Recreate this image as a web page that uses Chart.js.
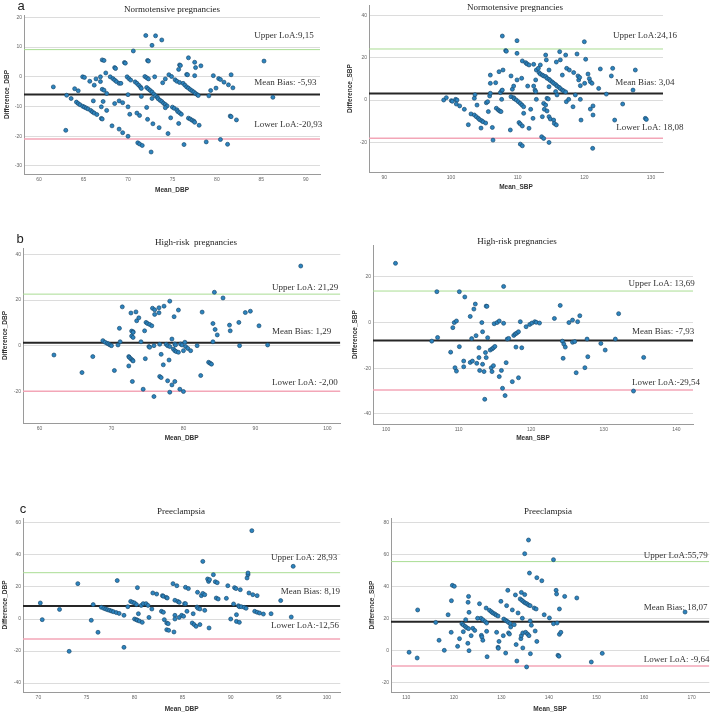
<!DOCTYPE html>
<html>
<head>
<meta charset="utf-8">
<script src="https://cdn.jsdelivr.net/npm/chart.js@4.4.1/dist/chart.umd.min.js"></script>
<style>
  html, body { margin: 0; padding: 0; background: #fff; }
  body { width: 714px; height: 714px; position: relative; overflow: hidden; }
  .panel { position: absolute; }
</style>
</head>
<body>
<script>
// Bland-Altman panels: [mean, difference] pairs

const normDbp = [[61.6,-3.4],[63.0,-18.0],[63.1,-6.2],[63.6,-7.3],[64.0,-4.0],[64.4,-4.7],
  [64.2,-8.5],[64.4,-9.0],[64.6,-9.4],[64.9,-9.9],[65.1,-10.2],[65.3,-10.5],[65.5,-10.8],
  [64.9,0.0],[65.1,-0.2],[65.7,-1.5],[66.1,-8.1],[66.2,-2.8],
  [65.8,-11.3],[66.0,-11.8],[66.2,-12.2],[66.5,-12.7],
  [66.4,-0.7],[66.9,-1.6],[66.9,0.0],[67.0,-10.1],[67.0,-14.0],[67.1,-14.2],[67.1,5.7],[67.3,5.5],[67.1,-4.2],[67.3,-4.5],[67.2,-8.3],[67.5,1.3],[67.6,-11.3],[67.6,-5.6],
  [68.0,0.0],[68.3,-0.6],[68.5,-1.1],[68.7,-1.6],[69.0,-2.2],
  [68.2,-16.5],[68.5,3.1],[68.6,2.8],[68.5,-9.0],[69.0,-8.1],[69.0,-17.6],[69.2,-2.2],[69.4,-18.8],[69.6,4.8],[69.7,4.6],[69.4,-8.7],
  [69.9,0.0],[70.1,-0.6],[70.3,-1.1],
  [70.0,-6.0],[70.0,-10.1],[70.0,-20.0],[70.2,-12.6],[70.6,8.7],
  [70.8,-1.7],[71.0,-2.2],[71.2,-2.8],[71.4,-3.4],[71.5,-3.9],
  [71.0,-12.2],[71.3,-13.0],
  [71.1,-22.2],[71.3,-22.6],[71.6,-23.1],[71.5,-6.6],
  [71.9,0.1],[72.1,-0.3],[72.3,-0.7],
  [72.0,13.9],[72.2,5.5],[72.3,5.3],[72.1,-10.3],[72.2,-14.3],
  [72.1,-3.6],[72.3,-4.1],[72.5,-4.6],[72.7,-5.1],[72.9,-5.8],[73.1,-6.4],[73.3,-6.9],[73.4,-7.4],[73.6,-7.9],[73.8,-8.3],[74.0,-8.9],[74.2,-9.3],[74.4,-9.8],
  [72.6,-25.3],[72.7,10.6],[72.7,-7.3],[72.8,-15.8],[73.0,0.0],[73.1,13.8],[73.5,-17.1],[73.8,12.4],[73.9,-2.0],[74.2,-0.7],[74.2,-10.4],[74.5,-19.1],[74.6,0.7],[74.9,0.1],[74.8,-13.8],
  [75.0,-10.2],[75.2,-10.6],[75.5,-11.1],[75.6,-11.7],[75.8,-12.1],[76.0,-12.6],
  [75.3,-1.0],[75.5,-1.5],[75.8,-1.9],
  [75.7,-15.7],[75.7,2.5],[75.8,4.0],[75.9,3.8],[76.3,-22.8],
  [76.2,-2.2],[76.4,-2.8],[76.6,-3.4],[76.8,-3.8],[77.0,-4.3],[77.2,-4.7],[77.4,-5.1],[77.6,-5.6],[77.8,-6.0],[77.9,-6.3],
  [76.6,0.8],[76.7,0.7],[76.8,6.4],
  [76.8,-13.9],[77.0,-14.2],[77.2,-14.6],[77.4,-14.9],[77.5,-15.3],
  [77.5,4.9],[77.6,3.1],[77.5,0.4],[78.0,-16.3],[78.2,3.7],[78.8,-21.9],[79.1,-6.4],[79.3,-4.6],[79.6,0.4],[79.9,-3.8],[80.2,-0.6],[80.4,-0.9],[80.4,-21.1],[80.8,-1.8],[81.2,-22.7],[81.3,-2.7],[81.6,0.7],[81.5,-13.2],[81.6,-13.4],[81.8,-3.7],[82.2,-14.5],[85.3,5.3],[86.3,-6.9]];

const normSbp = [[98.9,0.0],[99.3,1.1],[100.05,-0.3],[100.2,-0.6],[100.7,0.3],[100.9,0.0],[100.8,-1.9],[101.3,-2.8],[102.0,-4.4],[102.6,-11.7],[103.0,-6.6],
  [103.5,0.8],[103.6,2.5],[103.5,-7.1],[103.8,-7.9],[104.1,-8.7],[104.3,-9.3],[104.6,-9.8],[104.8,-10.3],[105.2,-10.9],
  [103.9,-2.4],[104.5,-13.3],[105.3,-1.3],[105.5,-0.8],[105.6,-5.5],[105.8,1.9],[105.9,3.2],[105.9,11.8],[105.9,7.9],[106.2,-13.0],[106.3,-19.0],[106.7,8.2],
  [106.8,-3.9],[107.1,-4.7],[107.3,-5.2],[107.5,-5.5],[107.2,13.4],[107.4,3.5],[107.6,4.4],[107.7,4.7],[107.6,0.3],[107.7,30.3],[107.8,14.2],[108.2,23.4],[108.3,23.1],
  [108.9,-14.2],[109.0,11.4],[109.2,5.1],[109.4,6.6],[109.0,1.6],[109.4,1.1],[109.5,0.6],[109.8,0.0],[109.9,9.5],[109.9,28.1],[109.9,22.1],
  [110.1,-0.8],[110.4,-1.6],[110.65,-2.4],[110.9,-3.2],[110.2,-10.7],[110.4,-11.4],[110.7,-12.3],[110.4,-20.9],[110.7,-21.7],[110.7,18.5],[110.6,10.3],[110.9,-6.3],
  [111.2,17.7],[111.4,17.1],[111.7,16.6],[111.5,6.6],[111.7,-13.4],[111.95,-4.4],[112.3,-8.7],[112.4,16.9],[112.4,6.6],[112.6,4.7],[112.7,4.0],[112.7,9.5],[112.8,0.3],[112.8,14.2],[113.1,15.0],[113.4,16.6],
  [113.2,13.0],[113.4,12.3],[113.7,11.8],[113.9,11.4],[114.2,11.1],[114.4,10.3],[114.7,9.8],[114.9,9.2],[115.2,8.5],[115.4,7.9],[115.7,7.3],[115.9,6.6],[116.2,6.0],[116.4,5.4],[116.7,4.7],[116.9,4.3],[117.2,3.8],
  [113.9,-1.6],[114.2,-2.4],[113.7,-7.9],[113.6,-17.4],[113.9,-18.2],[114.2,21.3],[114.3,19.0],[114.4,0.8],[114.6,0.5],[114.0,-4.4],[114.4,-5.2],[114.7,14.2],[114.7,-7.9],[114.9,-9.0],[114.7,-20.1],[114.7,6.3],
  [115.4,-9.5],[115.5,-11.1],[115.8,-11.8],[115.7,4.0],[115.9,2.4],[115.8,18.0],[116.3,22.9],[116.4,19.0],[116.7,11.8],[117.2,21.3],[117.35,15.0],[117.3,-0.8],[117.65,0.3],[117.75,14.2],
  [118.3,-3.2],[118.4,13.0],[118.65,2.4],[118.9,21.8],[119.05,11.4],[119.15,9.5],[119.3,10.7],[119.4,6.8],[119.4,0.3],[119.5,-9.5],[120.0,27.6],[120.2,19.3],[120.05,7.9],
  [120.55,12.3],[120.75,10.1],[120.9,8.7],[121.15,7.9],[120.9,-4.3],[121.3,-2.8],[121.3,-7.1],[121.25,-22.9],[122.15,5.5],[122.4,14.7],[123.3,2.8],[124.05,11.4],[124.25,15.0],[124.55,-9.5],
  [125.75,-1.9],[127.3,4.7],[127.65,14.2],[129.15,-8.7],[129.3,-9.2]];

const highDbp = [[62.0,-4.1],[65.9,-11.8],[67.4,-4.8],[68.8,2.2],[69.1,1.5],[69.4,1.0],[69.6,0.7],[69.8,0.3],[70.0,0.0],[70.4,-10.9],[70.9,0.3],[71.1,7.6],[71.2,1.7],[71.5,17.0],
  [72.4,-4.8],[72.5,-5.2],[72.7,-5.8],[72.9,-6.3],[73.0,-6.7],[72.4,-8.9],[72.7,14.3],[72.8,6.4],[73.0,6.1],[73.0,5.8],[72.8,4.2],[73.0,3.6],[72.9,-15.7],[73.4,14.8],[73.5,10.9],[73.8,12.2],
  [74.1,1.7],[74.4,-19.1],[74.6,6.5],[74.7,-5.7],[74.8,10.2],[75.0,9.7],[75.3,9.3],[75.6,8.7],[75.2,-0.4],[75.3,-0.7],[75.7,16.4],[75.9,-22.3],[76.0,15.7],[76.0,13.7],[75.9,0.0],
  [76.6,16.6],[76.6,14.4],[76.7,0.6],[76.9,-3.8],[76.7,-13.5],[76.9,-14.0],[77.2,-8.4],[77.3,17.3],[77.6,0.6],[77.8,0.0],[78.1,-0.4],[77.8,-15.4],[78.0,-6.3],[78.1,19.5],[78.1,-20.4],
  [78.4,2.9],[78.4,-17.2],[78.6,-1.5],[78.8,-2.2],[79.0,-2.6],[79.3,-2.9],[78.7,12.7],[78.8,-15.7],[78.8,0.7],[78.9,0.3],[79.3,15.6],[79.5,-19.1],[79.6,0.7],[79.8,0.3],[80.0,-20.1],[80.0,-2.2],
  [80.2,1.5],[80.3,-0.4],[80.6,-1.2],[81.0,-2.2],[81.9,0.0],[82.4,-13.1],[82.6,14.7],[83.5,-7.3],[83.7,-7.7],[83.9,-8.1],[84.1,9.7],[84.1,1.7],[84.3,23.4],[84.4,7.1],[84.7,4.7],
  [85.5,20.9],[86.4,9.0],[86.5,6.5],[87.7,10.2],[87.8,0.0],[88.6,14.5],[89.3,15.1],[90.5,8.7],[91.7,0.3],[96.3,34.9]];

const highSbp = [[101.3,25.8],[106.3,-8.2],[107.0,13.4],[107.1,-6.6],[108.9,-13.0],[109.2,-2.3],[109.4,-0.1],[109.7,0.6],[109.5,-19.8],[109.7,-21.3],[110.1,13.4],[110.1,-10.6],
  [110.7,-16.9],[110.85,11.1],[110.7,-19.4],[111.6,-17.5],[111.9,-16.9],[111.6,2.6],[111.8,-7.1],[112.1,5.8],[112.3,8.0],[112.4,-5.8],[112.5,-17.9],[112.8,-11.1],[112.8,-15.4],[112.9,-21.0],
  [113.2,-0.1],[113.3,-4.1],[113.3,-18.3],[113.5,-21.5],[113.6,-33.6],[113.7,-13.2],[113.8,-15.4],[113.8,7.1],[113.9,7.0],[114.0,-6.7],
  [114.35,-12.1],[114.6,-11.6],[114.8,-11.1],[115.0,-10.5],[114.5,-19.8],[114.6,-21.5],[114.8,-18.9],[114.9,-0.6],[115.3,-0.1],[115.6,0.6],[115.6,-23.7],[115.9,-21.0],[116.05,-28.8],
  [116.2,15.7],[116.2,-0.4],[116.4,-32.0],[116.55,-17.6],[116.7,-7.3],[116.9,-7.0],[117.4,-25.9],[117.6,-5.7],[117.8,-5.1],[118.0,-4.7],[118.25,-4.1],[117.9,-10.8],[118.25,-24.2],
  [118.5,0.3],[118.7,-11.1],[119.3,-1.9],[119.8,-0.9],[120.1,-0.3],[120.5,0.3],[120.7,0.0],[121.15,-0.3],[123.2,1.7],[124.0,7.4],[124.3,-8.2],[124.5,-9.5],[124.7,-10.8],[124.4,-15.7],
  [125.2,-0.1],[125.7,1.0],[125.7,-8.7],[126.0,-8.4],[126.2,-22.0],[126.4,0.3],[126.7,2.9],[127.4,-19.8],[127.7,-7.3],[127.8,-15.0],[129.6,-9.2],[130.2,-12.1],[131.6,-7.3],[132.05,3.8],
  [134.1,-30.0],[135.5,-15.3]];

const preDbp = [[70.2,10.0],[70.4,-0.4],[72.2,6.0],[73.2,-20.2],[74.1,22.1],[75.5,-0.8],[75.7,9.0],[76.2,-8.3],
  [76.55,7.3],[76.8,6.7],[77.0,6.25],[77.2,5.8],[77.4,5.4],[77.6,5.0],[77.8,4.6],[78.1,4.0],[78.4,3.5],
  [78.2,24.0],[78.9,-17.7],[78.9,2.3],[79.3,7.7],[79.6,11.0],[79.8,10.4],[80.0,10.0],[80.3,19.6],[80.2,9.0],[80.4,3.3],
  [80.0,0.0],[80.2,-0.4],[80.3,-0.8],[80.5,-1.25],[80.8,-2.1],[80.7,8.5],[80.9,9.6],[81.2,9.6],[81.4,8.5],[81.5,1.0],[81.8,6.25],[81.9,16.25],[82.3,15.6],
  [82.8,4.8],[83.0,4.2],[82.9,14.6],[83.0,14.2],[83.3,13.5],[83.4,13.1],[83.1,-0.4],[83.35,-2.5],[83.5,-2.9],[83.35,-6.7],[83.55,-7.1],[84.1,-8.1],[84.0,22.1],[84.2,2.3],[84.2,0.0],
  [84.4,20.8],[84.2,11.7],[84.5,11.0],[84.65,10.4],[84.65,1.0],[84.9,2.3],[85.1,1.7],[85.2,9.6],[85.3,9.6],[85.3,19.8],[85.45,4.8],[85.6,19.0],
  [86.0,-2.5],[86.2,-3.5],[86.4,-4.6],[86.1,3.3],[86.55,16.7],[86.5,7.5],[86.6,6.7],[86.8,6.25],[86.8,-3.5],[86.95,14.6],[87.1,36.0],[87.1,16.0],[87.3,15.2],[87.3,5.4],
  [87.6,25.0],[87.7,23.5],[87.75,-5.6],[87.8,24.6],[88.2,27.7],[88.4,23.3],[88.6,22.7],[88.5,13.1],[88.7,12.5],[89.55,12.9],[89.7,20.8],[90.0,0.0],[90.3,9.4],[90.4,19.6],[90.55,19.0],
  [90.6,2.7],[90.6,-1.5],[90.8,8.3],[90.9,7.7],[91.1,7.7],[91.4,7.3],[91.0,18.3],[90.9,-2.1],[91.6,6.7],[91.7,25.6],[91.8,27.7],[91.8,28.75],[91.9,16.25],[92.2,55.2],[92.3,15.2],
  [92.5,4.8],[92.75,4.2],[93.0,3.75],[93.4,3.1],[92.75,14.6],[94.2,3.3],[95.2,11.5],[96.3,1.25],[96.5,32.9]];

const preSbp = [[110.6,-1.0],[112.3,-4.6],[112.4,25.5],[116.2,17.7],[116.9,6.5],[118.0,0.2],[118.8,22.5],[119.45,11.5],[119.5,31.3],[119.7,40.9],[120.1,40.3],[120.8,2.7],[121.2,7.5],
  [121.7,16.9],[122.0,16.1],[122.4,15.2],[122.7,14.4],[123.1,13.8],[122.0,11.9],[122.5,19.4],[122.95,4.6],[123.0,30.3],[123.1,34.0],[123.2,24.0],[123.2,0.0],[123.65,9.4],[124.0,14.0],[124.4,12.7],
  [125.4,29.4],[125.8,9.6],[125.9,8.6],[126.1,6.5],[125.7,20.3],[126.1,19.4],[126.6,18.2],[126.9,17.3],[125.0,20.3],[126.8,26.7],[127.0,-3.8],[126.9,12.1],
  [127.5,25.3],[127.9,24.4],[128.2,23.6],[128.6,23.0],[128.9,22.3],[129.3,21.7],[129.0,11.5],[129.3,2.1],[129.35,1.5],[129.5,5.8],[129.9,30.9],[130.4,9.4],
  [130.5,19.8],[130.9,19.0],[131.2,18.4],[131.5,17.7],[131.85,16.9],[130.9,-1.5],[131.1,28.2],[131.35,37.8],[131.5,11.1],[131.7,10.4],[131.95,14.8],[132.3,25.5],[132.7,16.3],[132.95,34.9],
  [133.1,3.8],[133.25,-6.5],[133.5,23.6],[134.2,36.5],[133.95,32.4],[134.3,31.5],[134.65,30.7],[135.0,29.9],[135.35,29.4],[135.7,28.6],[136.05,28.2],[134.1,7.5],[134.2,9.4],[134.5,11.1],
  [134.4,20.3],[134.5,1.7],[134.9,60.75],[134.9,35.1],[135.1,11.5],[135.5,10.4],[135.8,9.4],[135.3,-10.2],[135.7,69.3],[135.9,48.6],[136.05,18.6],[136.1,-1.9],[136.3,15.9],
  [136.9,26.7],[137.3,26.1],[137.1,12.3],[137.45,45.7],[137.45,5.8],[138.5,43.8],[139.0,22.5],[140.1,20.5],[140.95,57.0],[140.95,16.9],[141.5,37.8],[141.6,35.5],
  [141.7,17.3],[141.9,-2.9],[142.1,-3.5],[142.2,26.1],[142.2,10.2],[142.5,11.5],[143.3,34.0],[145.85,33.0],[148.9,-7.1],[151.2,-1.7],[168.6,24.2]];

// limits of agreement per panel (aL, aR, bL, bR, cL, cR)
const meanBias = [-5.93, 3.04, 1.29, -7.93, 8.19, 18.07];
const upperLoa = [9.15, 24.16, 22.58, 13.69, 28.93, 55.79];
const lowerLoa = [-20.93, -18.08, -20.00, -29.54, -12.56, -9.64];
const loaText = [
  ['Upper LoA:9,15', 'Mean Bias: -5,93', 'Lower LoA:-20,93'],
  ['Upper LoA:24,16', 'Mean Bias: 3,04', 'Lower LoA: 18,08'],
  ['Upper LoA: 21,29', 'Mean Bias: 1,29', 'Lower LoA: -2,00'],
  ['Upper LoA: 13,69', 'Mean Bias: -7,93', 'Lower LoA:-29,54'],
  ['Upper LoA: 28,93', 'Mean Bias: 8,19', 'Lower LoA:-12,56'],
  ['Upper LoA:55,79', 'Mean Bias: 18,07', 'Lower LoA: -9,64']
];
const panelTitles = ['Normotensive pregnancies', 'Normotensive pregnancies', 'High-risk  pregnancies',
  'High-risk pregnancies', 'Preeclampsia', 'Preeclampsia'];
const xTitles = ['Mean_DBP', 'Mean_SBP', 'Mean_DBP', 'Mean_SBP', 'Mean_DBP', 'Mean_SBP'];
const yTitles = ['Difference_DBP', 'Difference_SBP', 'Difference_DBP', 'Difference_SBP', 'Difference_DBP', 'Difference_SBP'];
const seriesList = [normDbp, normSbp, highDbp, highSbp, preDbp, preSbp];

// layout: canvas box [left, top, w, h], plot rect [L, T, R, B] in page px,
// axis ranges [min, max, step], and where the texts sit
const panels = [
  { box: [0, -5, 345, 220], plot: [24, 15, 320, 174], x: [58.3, 91.6, 5], y: [-32.7, 20.8, 10],
    title: [172, 9.5], letter: ['a', 21, 6], xTitleY: 190, yTitleX: 7,
    labels: [[84.2, 14.0], [84.2, -2.0], [84.2, -16.0]] },
  { box: [340, -10, 374, 225], plot: [369, 5, 663, 172], x: [87.7, 131.8, 10], y: [-34.1, 45.0, 20],
    title: [515, 7.5], xTitleY: 187, yTitleX: 350,
    labels: [[124.3, 30.5], [124.65, 8.2], [124.8, -13.1]] },
  { box: [0, 226, 345, 220], plot: [23, 248, 342, 423], x: [57.7, 101.8, 10], y: [-33.9, 42.8, 20],
    title: [196, 243], letter: ['b', 20, 239], xTitleY: 438, yTitleX: 5,
    labels: [[92.3, 25.3], [92.3, 6.1], [92.3, -16.0]] },
  { box: [340, 226, 374, 220], plot: [373, 245, 693, 424], x: [98.2, 142.3, 10], y: [-44.4, 33.8, 20],
    title: [517, 242], xTitleY: 438, yTitleX: 355,
    labels: [[133.4, 17.0], [133.9, -4.1], [133.9, -26.2]] },
  { box: [0, 495, 345, 219], plot: [23, 518, 342, 692], x: [68.4, 101.4, 5], y: [-45.6, 63.1, 20],
    title: [181, 512], letter: ['c', 23, 509], xTitleY: 709, yTitleX: 5,
    labels: [[94.2, 38.1], [95.2, 16.9], [94.2, -4.2]] },
  { box: [360, 495, 354, 219], plot: [391, 518, 710, 692], x: [106.8, 173.7, 10], y: [-25.9, 83.1, 20],
    title: [548, 512], xTitleY: 709, yTitleX: 372,
    labels: [[159.9, 59.3], [159.9, 27.1], [159.9, -5.6]] }
];

Chart.defaults.font.family = '"Liberation Sans", Arial, sans-serif';
Chart.defaults.color = '#555';

const textPlugin = {
  id: 'panelText',
  afterDraw(chart, args, opts) {
    const { ctx, chartArea, scales } = chart;
    const ox = opts.box[0], oy = opts.box[1];
    ctx.save();
    ctx.textBaseline = 'middle';
    // title above the plot
    ctx.fillStyle = '#222';
    ctx.font = '9px "Liberation Serif", "Times New Roman", serif';
    ctx.textAlign = 'center';
    ctx.fillText(opts.title, opts.titlePos[0] - ox, opts.titlePos[1] - oy);
    // panel letter
    if (opts.letter) {
      ctx.font = '13px "Liberation Sans", Arial, sans-serif';
      ctx.fillText(opts.letter[0], opts.letter[1] - ox, opts.letter[2] - oy);
    }
    // LoA annotations
    ctx.font = '9px "Liberation Serif", "Times New Roman", serif';
    ctx.fillStyle = '#333';
    ctx.textAlign = 'left';
    opts.labels.forEach((p, i) => {
      ctx.fillText(opts.texts[i], scales.x.getPixelForValue(p[0]), scales.y.getPixelForValue(p[1]));
    });
    // axis titles
    ctx.font = 'bold 6.5px "Liberation Sans", Arial, sans-serif';
    ctx.fillStyle = '#333';
    ctx.textAlign = 'center';
    ctx.fillText(opts.xTitle, (chartArea.left + chartArea.right) / 2, opts.xTitleY - oy);
    ctx.translate(opts.yTitleX - ox, (chartArea.top + chartArea.bottom) / 2);
    ctx.rotate(-Math.PI / 2);
    ctx.fillText(opts.yTitle, 0, 0);
    ctx.restore();
  }
};

function hLine(v, xr, color, width) {
  return {
    type: 'line',
    data: [{ x: xr[0], y: v }, { x: xr[1], y: v }],
    borderColor: color,
    borderWidth: width,
    pointRadius: 0,
    order: 2
  };
}

panels.forEach((p, i) => {
  const [bl, bt, bw, bh] = p.box;
  const [L, T, R, B] = p.plot;
  const wrap = document.createElement('div');
  wrap.className = 'panel';
  wrap.style.left = bl + 'px';
  wrap.style.top = bt + 'px';
  wrap.style.width = bw + 'px';
  wrap.style.height = bh + 'px';
  const canvas = document.createElement('canvas');
  canvas.width = bw;
  canvas.height = bh;
  canvas.style.width = bw + 'px';
  canvas.style.height = bh + 'px';
  wrap.appendChild(canvas);
  document.body.appendChild(wrap);

  new Chart(canvas.getContext('2d'), {
    type: 'scatter',
    data: {
      datasets: [
        {
          data: seriesList[i].map(d => ({ x: d[0], y: d[1] })),
          backgroundColor: '#2c84bf',
          borderColor: '#1b4c70',
          borderWidth: 0.7,
          pointRadius: 2.0,
          order: 0
        },
        hLine(upperLoa[i], p.x, '#a9dd93', 1),
        hLine(lowerLoa[i], p.x, '#f3a6b7', 1.5),
        hLine(meanBias[i], p.x, '#262626', 2)
      ]
    },
    options: {
      responsive: false,
      animation: false,
      events: [],
      layout: { padding: { left: 0, top: T - bt, right: bl + bw - R, bottom: 0 } },
      plugins: {
        legend: { display: false },
        tooltip: { enabled: false },
        panelText: {
          box: p.box,
          title: panelTitles[i],
          titlePos: p.title,
          letter: p.letter,
          labels: p.labels,
          texts: loaText[i],
          xTitle: xTitles[i],
          yTitle: yTitles[i],
          xTitleY: p.xTitleY,
          yTitleX: p.yTitleX
        }
      },
      scales: {
        x: {
          type: 'linear',
          min: p.x[0],
          max: p.x[1],
          grid: { display: false, drawTicks: false },
          border: { display: true, color: '#9a9a9a', width: 1 },
          ticks: { stepSize: p.x[2], includeBounds: false, padding: 3, font: { size: 5 }, color: '#666' },
          afterFit: s => { s.height = bt + bh - B; }
        },
        y: {
          type: 'linear',
          min: p.y[0],
          max: p.y[1],
          grid: { color: '#dcdcdc', lineWidth: 1, drawTicks: false },
          border: { display: true, color: '#9a9a9a', width: 1 },
          ticks: { stepSize: p.y[2], includeBounds: false, padding: 2, font: { size: 5 }, color: '#666' },
          afterFit: s => { s.width = L - bl; }
        }
      }
    },
    plugins: [textPlugin]
  });
});
</script>
</body>
</html>
